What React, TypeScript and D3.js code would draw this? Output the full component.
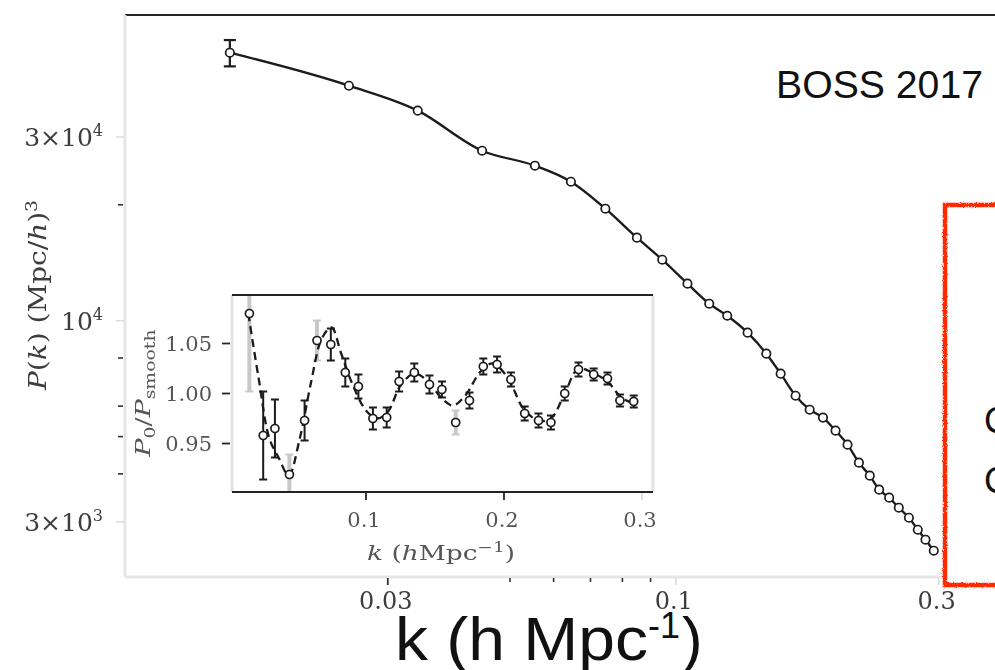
import React from "react";
import * as d3 from "d3";

// Band-power centres shared by the spectrum and the ratio inset (h/Mpc)
const kBins = [
  0.0155, 0.0255, 0.034, 0.0445, 0.0555, 0.0645, 0.0745, 0.085, 0.0945, 0.105,
  0.115, 0.124, 0.135, 0.146, 0.155, 0.165, 0.175, 0.185, 0.195, 0.205,
  0.215, 0.225, 0.234, 0.244, 0.254, 0.265, 0.275, 0.284, 0.294,
];

// Monopole power spectrum P(k) in (Mpc/h)^3
const powerSpectrum = [
  49670, 40770, 35120, 27640, 25270, 22960, 19540, 16430, 14400, 12480,
  11070, 10300, 9310, 8210, 7285, 6385, 5873, 5601, 5180, 4764,
  4278, 3958, 3640, 3470, 3268, 3078, 2865, 2699, 2527,
];
const powerErr = [
  3900, 700, 450, 300, 230, 190, 150, 120, 100, 85,
  70, 60, 52, 44, 38, 33, 29, 26, 23, 21,
  19, 17, 15, 14, 13, 12, 11, 10, 9,
];

// P0 / P_smooth ratio showing the BAO wiggles
const baoRatio = [
  1.08, 0.958, 0.965, 0.919, 0.973, 1.053, 1.049, 1.021, 1.007, 0.975,
  0.976, 1.012, 1.021, 1.009, 1.004, 0.971, 0.993, 1.027, 1.029, 1.014,
  0.98, 0.973, 0.971, 1.0, 1.024, 1.019, 1.015, 0.993, 0.992,
];
const baoErr = [
  0.078, 0.044, 0.029, 0.02, 0.02, 0.02, 0.016, 0.014, 0.012, 0.011,
  0.01, 0.01, 0.009, 0.009, 0.008, 0.012, 0.008, 0.008, 0.008, 0.007,
  0.007, 0.007, 0.007, 0.007, 0.007, 0.006, 0.006, 0.006, 0.006,
];
const lightBars = [0, 3, 5, 15];

// Best-fit BAO model for the ratio
const modelK = [
  0.0147, 0.022, 0.03, 0.037, 0.044, 0.052, 0.06, 0.068, 0.075, 0.082,
  0.09, 0.1, 0.108, 0.116, 0.125, 0.135, 0.145, 0.155, 0.163, 0.172,
  0.183, 0.192, 0.203, 0.214, 0.225, 0.234, 0.244, 0.254, 0.265, 0.275,
  0.285, 0.294,
];
const modelRatio = [
  1.08, 1.017, 0.955, 0.935, 0.918, 0.955, 1.01, 1.055, 1.066, 1.04,
  1.01, 0.983, 0.975, 0.982, 1.008, 1.02, 1.012, 0.995, 0.988, 0.998,
  1.022, 1.03, 1.015, 0.985, 0.973, 0.975, 1.0, 1.025, 1.02, 1.012,
  0.996, 0.99,
];

// Axis ticks
const mainYMajor = [
  { v: 30000, pre: "3×", exp: "4" },
  { v: 10000, pre: "", exp: "4" },
  { v: 3000, pre: "3×", exp: "3" },
];
const mainYMinor = [20000, 8000, 6000, 5000, 4000];
const mainXMajor = [
  { v: 0.03, label: "0.03", dark: true },
  { v: 0.1, label: "0.1", dark: false },
  { v: 0.3, label: "0.3", dark: false },
];
const mainXMinor = [0.05, 0.06, 0.07, 0.08, 0.09];
const insetYTicks = [
  { v: 1.05, label: "1.05" },
  { v: 1.0, label: "1.00" },
  { v: 0.95, label: "0.95" },
];
const insetXTicks = [
  { v: 0.1, label: "0.1", dark: true },
  { v: 0.2, label: "0.2", dark: true },
  { v: 0.3, label: "0.3", dark: false },
];

const SERIF = "'DejaVu Serif', 'Liberation Serif', serif";
const SANS = "'Liberation Sans', Arial, Helvetica, sans-serif";
const INK = "#1a1a1a";
const LABEL = "#3c3c3c";
const PALE = "#dcdcdc";

export default function App() {
  // main panel geometry
  const left = 125, top = 15, bottom = 577;
  const x = d3.scaleLog().domain([0.01, 0.3]).range([125, 938.6]);
  const y = d3.scaleLog().domain([3000, 30000]).range([522, 137]);

  // inset geometry
  const inL = 232, inR = 653, inT = 295, inB = 492;
  const xi = d3.scaleLinear().domain([0.1, 0.3]).range([366, 642]);
  const yi = d3.scaleLinear().domain([0.95, 1.05]).range([443.5, 343.5]);

  const mainPts = kBins.map((k, i) => ({ k, p: powerSpectrum[i], e: powerErr[i] }));
  const ratioPts = kBins.map((k, i) => ({ k, r: baoRatio[i], e: baoErr[i], i }));
  const modelPts = modelK.map((k, i) => ({ k, r: modelRatio[i] }));

  const mainLine = d3
    .line<{ k: number; p: number }>()
    .x((d) => x(d.k))
    .y((d) => y(d.p))
    .curve(d3.curveMonotoneX);

  const modelLine = d3
    .line<{ k: number; r: number }>()
    .x((d) => xi(d.k))
    .y((d) => yi(d.r))
    .curve(d3.curveCatmullRom.alpha(0.5));

  return (
    <svg
      width={995}
      height={670}
      viewBox="0 0 995 670"
      style={{ position: "absolute", left: 0, top: 0, display: "block", background: "#fff" }}
    >
      <defs>
        <filter id="soft" x="-5%" y="-5%" width="110%" height="110%">
          <feGaussianBlur stdDeviation="0.5" />
        </filter>
        <filter id="rough" x="-10%" y="-10%" width="120%" height="120%">
          <feTurbulence type="fractalNoise" baseFrequency="0.9" numOctaves="1" seed="4" result="n" />
          <feDisplacementMap in="SourceGraphic" in2="n" scale="3.5" xChannelSelector="R" yChannelSelector="G" />
        </filter>
        <clipPath id="insetClip">
          <rect x={inL} y={inT} width={inR - inL} height={inB - inT} />
        </clipPath>
      </defs>

      <rect x={0} y={0} width={995} height={670} fill="#fff" />

      <g filter="url(#soft)">
        {/* frame of the main panel */}
        <line x1={left} x2={995} y1={top} y2={top} stroke="#262626" strokeWidth={2.2} />
        <line x1={left} x2={left} y1={top} y2={bottom} stroke="#e6e6e6" strokeWidth={3} />
        <line x1={left} x2={945} y1={bottom} y2={bottom} stroke="#e6e6e6" strokeWidth={3} />

        {/* y ticks */}
        {mainYMajor.map((t) => (
          <g key={"ym" + t.v}>
            <line x1={116} x2={124} y1={y(t.v)} y2={y(t.v)} stroke={PALE} strokeWidth={1.6} />
            <text
              x={103}
              y={y(t.v)}
              dy="0.36em"
              textAnchor="end"
              fontFamily={SERIF}
              fontSize={25}
              fill={LABEL}
            >
              {t.pre}10
              <tspan dy={-10} fontSize={16}>
                {t.exp}
              </tspan>
            </text>
          </g>
        ))}
        {mainYMinor.map((v) => (
          <line key={"yn" + v} x1={118} x2={123} y1={y(v)} y2={y(v)} stroke="#333" strokeWidth={1.6} />
        ))}

        {/* x ticks */}
        {mainXMajor.map((t) => (
          <g key={"xm" + t.v}>
            <line
              x1={x(t.v)}
              x2={x(t.v)}
              y1={578}
              y2={585}
              stroke={t.dark ? "#333" : PALE}
              strokeWidth={1.8}
            />
            <text x={x(t.v) - 2} y={609} textAnchor="middle" fontFamily={SERIF} fontSize={24} fill={LABEL}>
              {t.label}
            </text>
          </g>
        ))}
        {mainXMinor.map((v) => (
          <line key={"xn" + v} x1={x(v)} x2={x(v)} y1={578} y2={582} stroke="#333" strokeWidth={1.6} />
        ))}

        {/* y axis title */}
        <text
          transform="translate(46,295) rotate(-90)"
          textAnchor="middle"
          fontFamily={SERIF}
          fontSize={24}
          fill={LABEL}
          textLength={190}
          lengthAdjust="spacingAndGlyphs"
        >
          <tspan fontStyle="italic">P</tspan>(<tspan fontStyle="italic">k</tspan>) (Mpc/
          <tspan fontStyle="italic">h</tspan>)
          <tspan dy={-9} fontSize={16}>
            3
          </tspan>
        </text>

        {/* power spectrum */}
        <path d={mainLine(mainPts) ?? ""} fill="none" stroke={INK} strokeWidth={2.3} />
        {mainPts.map((d, i) => {
          const y0 = y(d.p + d.e);
          const y1 = y(d.p - d.e);
          // bars shorter than the marker stay hidden behind it
          if (y1 - y0 < 12) return null;
          return (
            <g key={"eb" + i}>
              <line x1={x(d.k)} x2={x(d.k)} y1={y0} y2={y1} stroke={INK} strokeWidth={2.2} />
              <line x1={x(d.k) - 6} x2={x(d.k) + 6} y1={y0} y2={y0} stroke={INK} strokeWidth={2.2} />
              <line x1={x(d.k) - 6} x2={x(d.k) + 6} y1={y1} y2={y1} stroke={INK} strokeWidth={2.2} />
            </g>
          );
        })}
        {mainPts.map((d, i) => (
          <circle key={"pt" + i} cx={x(d.k)} cy={y(d.p)} r={4.2} fill="#fff" stroke={INK} strokeWidth={1.7} />
        ))}

        {/* inset panel */}
        <rect x={inL} y={inT} width={inR - inL} height={inB - inT} fill="#fff" />
        <line x1={inL} x2={inL} y1={inT} y2={inB} stroke="#e2e2e2" strokeWidth={3} />
        <line x1={inR} x2={inR} y1={inT} y2={inB} stroke="#e2e2e2" strokeWidth={3} />

        <g clipPath="url(#insetClip)">
          {ratioPts.map((d) => {
            const light = lightBars.includes(d.i);
            const c = light ? "#c8c8c8" : INK;
            const w = light ? 4 : 2;
            return (
              <g key={"rb" + d.i}>
                <line x1={xi(d.k)} x2={xi(d.k)} y1={yi(d.r + d.e)} y2={yi(d.r - d.e)} stroke={c} strokeWidth={w} />
                <line x1={xi(d.k) - 4} x2={xi(d.k) + 4} y1={yi(d.r + d.e)} y2={yi(d.r + d.e)} stroke={c} strokeWidth={2} />
                <line x1={xi(d.k) - 4} x2={xi(d.k) + 4} y1={yi(d.r - d.e)} y2={yi(d.r - d.e)} stroke={c} strokeWidth={2} />
              </g>
            );
          })}
          <path
            d={modelLine(modelPts) ?? ""}
            fill="none"
            stroke={INK}
            strokeWidth={2.3}
            strokeDasharray="8 5"
          />
          {ratioPts.map((d) => (
            <circle key={"rp" + d.i} cx={xi(d.k)} cy={yi(d.r)} r={4} fill="#fff" stroke={INK} strokeWidth={1.7} />
          ))}
        </g>

        <line x1={inL} x2={inR} y1={inT} y2={inT} stroke="#222" strokeWidth={2.2} />
        <line x1={inL} x2={inR} y1={inB} y2={inB} stroke="#222" strokeWidth={2.2} />

        {insetYTicks.map((t) => (
          <g key={"iy" + t.v}>
            <line x1={222} x2={230} y1={yi(t.v)} y2={yi(t.v)} stroke="#222" strokeWidth={1.8} />
            <text x={212} y={yi(t.v)} dy="0.36em" textAnchor="end" fontFamily={SERIF} fontSize={21} fill="#555">
              {t.label}
            </text>
          </g>
        ))}
        {insetXTicks.map((t) => (
          <g key={"ix" + t.v}>
            <line
              x1={xi(t.v)}
              x2={xi(t.v)}
              y1={inB + 1}
              y2={inB + 8}
              stroke={t.dark ? "#222" : PALE}
              strokeWidth={1.8}
            />
            <text x={xi(t.v) - 2} y={527} textAnchor="middle" fontFamily={SERIF} fontSize={21} fill="#555">
              {t.label}
            </text>
          </g>
        ))}

        <text
          transform="translate(150,393) rotate(-90)"
          textAnchor="middle"
          fontFamily={SERIF}
          fontSize={20}
          fill="#555"
          textLength={127}
          lengthAdjust="spacingAndGlyphs"
        >
          <tspan fontStyle="italic">P</tspan>
          <tspan dy={5} fontSize={14}>
            0
          </tspan>
          <tspan dy={-5}>/</tspan>
          <tspan fontStyle="italic">P</tspan>
          <tspan dy={5} fontSize={14}>
            smooth
          </tspan>
        </text>

        <text
          x={441}
          y={560}
          textAnchor="middle"
          fontFamily={SERIF}
          fontSize={20}
          fill="#555"
          textLength={148}
          lengthAdjust="spacingAndGlyphs"
        >
          <tspan fontStyle="italic">k</tspan> (<tspan fontStyle="italic">h</tspan>Mpc
          <tspan dy={-8} fontSize={14}>
            −1
          </tspan>
          <tspan dy={8}>)</tspan>
        </text>
      </g>

      {/* annotation box */}
      <rect
        x={945}
        y={205}
        width={110}
        height={380}
        fill="#fff"
        stroke="#ff2a00"
        strokeWidth={4.5}
        filter="url(#rough)"
      />
      <text x={984} y={433} fontFamily={SANS} fontSize={36} fill="#111">
        C
      </text>
      <text x={984} y={493} fontFamily={SANS} fontSize={36} fill="#111">
        C
      </text>

      <text x={776} y={98} fontFamily={SANS} fontSize={39} fill="#111" textLength={207} lengthAdjust="spacingAndGlyphs">
        BOSS 2017
      </text>

      <text fontFamily={SANS} fontSize={62} fill="#111">
        <tspan x={395} y={660} textLength={253} lengthAdjust="spacingAndGlyphs">
          k (h Mpc
        </tspan>
        <tspan x={648} y={638} fontSize={36}>
          -1
        </tspan>
        <tspan x={682} y={660}>
          )
        </tspan>
      </text>
    </svg>
  );
}
